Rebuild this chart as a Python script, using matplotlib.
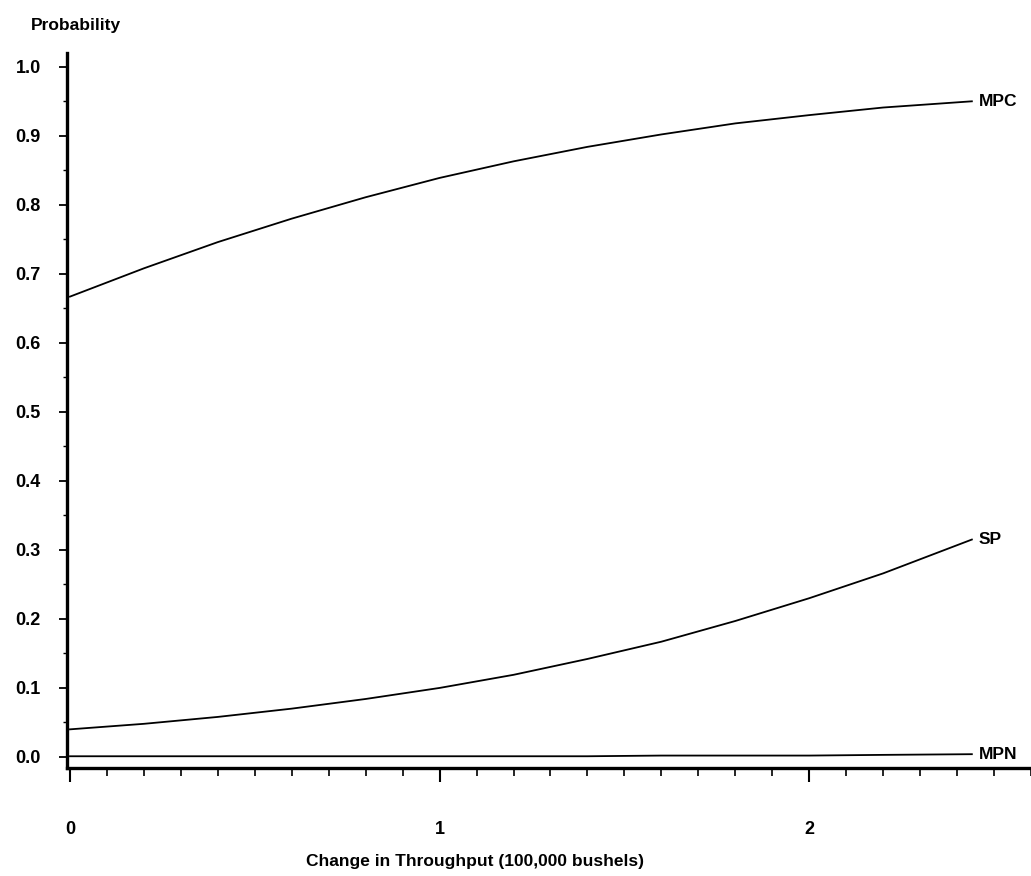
import matplotlib.pyplot as plt
from matplotlib.ticker import MultipleLocator, FixedLocator

plt.rcParams['font.family'] = ['Liberation Sans', 'DejaVu Sans']

# throughput change (100,000 bushels) and probabilities
throughput = [0, 0.2, 0.4, 0.6, 0.8, 1.0, 1.2, 1.4, 1.6, 1.8, 2.0, 2.2, 2.44]
mpc = [0.667, 0.708, 0.746, 0.780, 0.811, 0.839, 0.863, 0.884, 0.902, 0.918,
       0.930, 0.941, 0.950]
sp = [0.040, 0.048, 0.058, 0.070, 0.084, 0.100, 0.119, 0.142, 0.167, 0.197,
      0.230, 0.266, 0.315]
mpn = [0.001, 0.001, 0.001, 0.001, 0.001, 0.001, 0.001, 0.001, 0.002, 0.002,
       0.002, 0.003, 0.004]
series = [("MPC", mpc), ("SP", sp), ("MPN", mpn)]

x_major = [0, 1, 2]
y_ticks = [0.0, 0.1, 0.2, 0.3, 0.4, 0.5, 0.6, 0.7, 0.8, 0.9, 1.0]

fig = plt.figure(figsize=(10.31, 8.76), dpi=100)
ax = fig.add_axes([0.065, 0.1233, 0.935, 0.8162])

for name, vals in series:
    ax.plot(throughput, vals, color='black', lw=1.3)
    ax.annotate(name, (throughput[-1], vals[-1]), xytext=(5, 0),
                textcoords='offset points', va='center', ha='left',
                fontsize=12.5, fontweight='bold')

ax.set_xlim(-0.008, 2.6)
ax.set_ylim(-0.016, 1.02)

ax.spines['top'].set_visible(False)
ax.spines['right'].set_visible(False)
ax.spines['left'].set_linewidth(2.4)
ax.spines['bottom'].set_linewidth(2.4)

ax.xaxis.set_major_locator(FixedLocator(x_major))
ax.xaxis.set_minor_locator(MultipleLocator(0.1))
ax.set_xticklabels([str(v) for v in x_major], fontsize=13, fontweight='bold')
ax.tick_params(axis='x', which='major', direction='out', length=10, width=1.5, pad=28)
ax.tick_params(axis='x', which='minor', direction='out', length=6, width=1.2)

ax.yaxis.set_major_locator(FixedLocator(y_ticks))
ax.yaxis.set_minor_locator(MultipleLocator(0.05))
ax.set_yticklabels([f"{v:.1f}" for v in y_ticks], fontsize=13, fontweight='bold')
ax.tick_params(axis='y', which='major', direction='out', length=6, width=1.3, pad=13)
ax.tick_params(axis='y', which='minor', direction='out', length=3, width=1.0)

fig.text(0.03, 0.971, "Probability", fontsize=12.5, fontweight='bold', va='center')
fig.text(0.461, 0.017, "Change in Throughput (100,000 bushels)", fontsize=12.5,
         fontweight='bold', ha='center', va='center')

fig.savefig("out.png", dpi=100)
